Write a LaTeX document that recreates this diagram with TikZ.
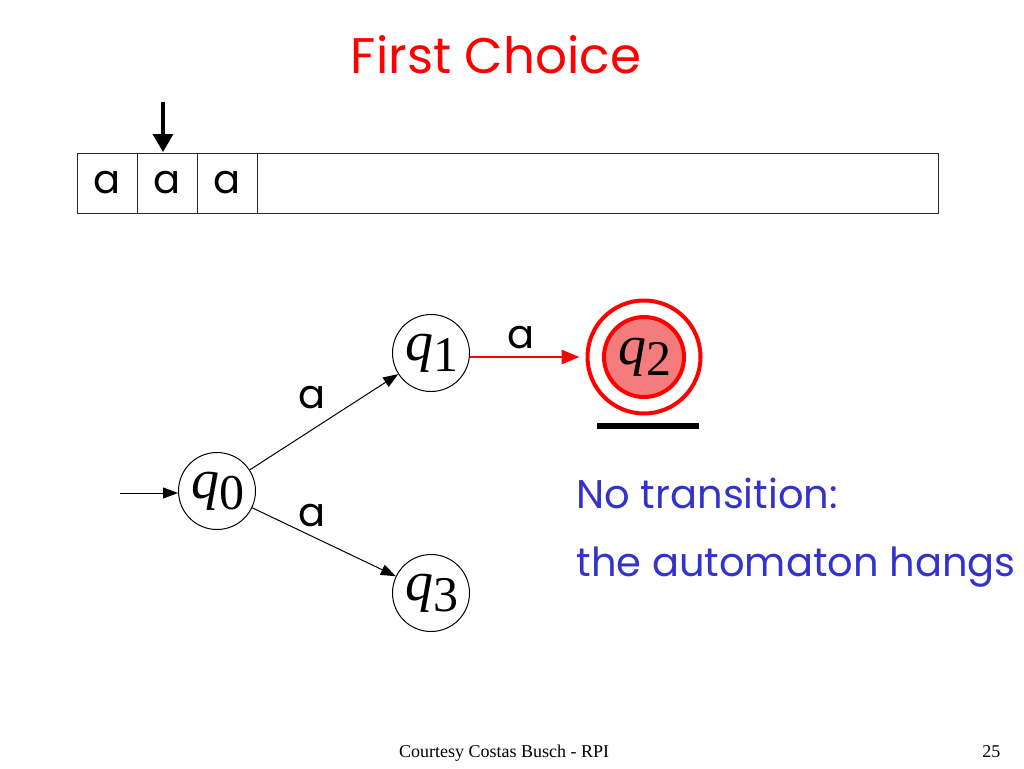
\documentclass[tikz,border=0pt]{standalone}
\usepackage{fontspec}
\setmainfont{Liberation Serif}
\newfontfamily\comic{Poppins}
\usetikzlibrary{arrows.meta}
\definecolor{myred}{HTML}{FF0000}
\definecolor{myfill}{HTML}{F47C7C}
\definecolor{myblue}{HTML}{3333CC}
\begin{document}
\begin{tikzpicture}[x=1pt,y=-1pt,
  state/.style={circle,draw,line width=1pt,minimum size=77pt,inner sep=0pt},
  qlab/.style={font=\fontsize{56}{56}\selectfont},
  edgelab/.style={font=\comic\fontsize{40}{40}\selectfont},
  tri/.style={-{Triangle[length=15pt,width=11pt]}},
  tape/.style={draw=black!85,line width=1pt}]
\useasboundingbox (0,0) rectangle (1024,768);
% title
\node[font=\comic\fontsize{50}{50}\selectfont,text=myred] (title) at (496,55) {First Choice};
% tape
\draw[tape] (77,153) rectangle (938,213);
\draw[tape] (137,153) -- (137,213) (197,153) -- (197,213) (257,153) -- (257,213);
\node[edgelab] (t1) at (107,183) {a};
\node[edgelab] (t2) at (167,183) {a};
\node[edgelab] (t3) at (227,183) {a};
\coordinate (headtop) at (163,102);
\coordinate (headbot) at (163,152);
\draw[line width=3.5pt,-{Triangle[length=18pt,width=20pt]}] (headtop) -- (headbot);
% states
\newcommand{\qlabel}[1]{\hspace*{0.05em}\textit{q}\raisebox{-0.2em}{\fontsize{50}{50}\selectfont #1}}
\node[state,qlab] (q0) at (217,491) {\qlabel{0}};
\node[state,qlab] (q1) at (431,353) {\qlabel{1}};
\node[state,qlab,fill=myfill,draw=myred,line width=4pt,minimum size=80pt] (q2) at (644,357) {\qlabel{2}};
\node[circle,draw=myred,line width=4pt,minimum size=113pt,inner sep=0pt] (q2o) at (644,357) {};
\node[state,qlab] (q3) at (431,593) {\qlabel{3}};
% edges
\coordinate (start) at (120,493);
\draw[line width=1pt,tri] (start) -- (start -| q0.west);
\draw[line width=1pt,tri] (q0) -- (q1);
\draw[line width=1pt,tri] (q0) -- (q3);
\coordinate (rs) at (q1.east |- q2);
\draw[line width=2.8pt,myred,-{Triangle[length=18pt,width=14pt]},shorten >=6pt] (rs) -- (rs -| q2o.west);
\node[edgelab] (l1) at (312,398) {a};
\node[edgelab] (l2) at (312,516) {a};
\node[edgelab] (l3) at (521,338) {a};
% underline
\draw[line width=6pt] (597,426) -- (699,426);
% comment text
\node[font=\comic\fontsize{40}{40}\selectfont,text=myblue,anchor=base west] (n1) at (573,508) {No transition:};
\node[font=\comic\fontsize{40}{40}\selectfont,text=myblue,anchor=base west] (n2) at (573,576) {the automaton hangs};
% footer
\node[font=\fontsize{18}{18}\selectfont,anchor=base] (foot) at (504,757) {Courtesy Costas Busch - RPI};
\node[font=\fontsize{18}{18}\selectfont,anchor=base east] (pg) at (1004,757) {25};
\end{tikzpicture}
\end{document}
